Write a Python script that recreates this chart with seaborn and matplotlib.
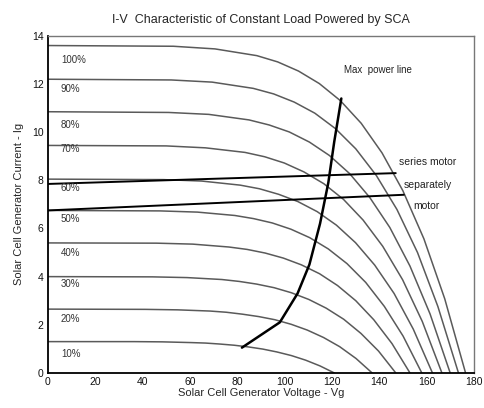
import matplotlib
matplotlib.use('Agg')
import matplotlib.pyplot as plt
import seaborn as sns

# I-V curves of the solar cell array at each insolation level
v_10 = [0, 36.3, 48.4, 60.5, 66.6, 72.6, 78.7, 84.7, 90.8, 96.8, 102.9, 108.9, 115.0, 121]
i_10 = [1.30, 1.30, 1.29, 1.26, 1.24, 1.20, 1.15, 1.08, 0.99, 0.87, 0.72, 0.53, 0.29, 0]
v_20 = [0, 41.1, 54.8, 68.5, 75.4, 82.2, 89.1, 95.9, 102.8, 109.6, 116.5, 123.3, 130.2, 137]
i_20 = [2.65, 2.64, 2.62, 2.57, 2.52, 2.44, 2.34, 2.21, 2.02, 1.78, 1.47, 1.09, 0.60, 0]
v_30 = [0, 44.1, 58.8, 73.5, 80.9, 88.2, 95.6, 102.9, 110.3, 117.6, 125.0, 132.3, 139.7, 147]
i_30 = [4.00, 3.99, 3.96, 3.88, 3.80, 3.69, 3.54, 3.33, 3.05, 2.69, 2.23, 1.64, 0.91, 0]
v_40 = [0, 45.9, 61.2, 76.5, 84.2, 91.8, 99.5, 107.1, 114.8, 122.4, 130.1, 137.7, 145.4, 153]
i_40 = [5.40, 5.39, 5.35, 5.23, 5.13, 4.98, 4.77, 4.49, 4.12, 3.63, 3.00, 2.21, 1.22, 0]
v_50 = [0, 47.4, 63.2, 79.0, 86.9, 94.8, 102.7, 110.6, 118.5, 126.4, 134.3, 142.2, 150.1, 158]
i_50 = [6.75, 6.73, 6.68, 6.54, 6.41, 6.23, 5.97, 5.62, 5.15, 4.54, 3.76, 2.76, 1.53, 0]
v_60 = [0, 48.8, 65.0, 81.3, 89.4, 97.5, 105.6, 113.8, 121.9, 130.0, 138.1, 146.3, 154.4, 162.5]
i_60 = [8.05, 8.03, 7.97, 7.80, 7.65, 7.42, 7.12, 6.70, 6.14, 5.41, 4.48, 3.30, 1.82, 0]
v_70 = [0, 50.0, 66.6, 83.3, 91.6, 99.9, 108.2, 116.6, 124.9, 133.2, 141.5, 149.9, 158.2, 166.5]
i_70 = [9.45, 9.43, 9.35, 9.16, 8.98, 8.72, 8.35, 7.86, 7.21, 6.35, 5.26, 3.87, 2.14, 0]
v_80 = [0, 51.0, 68.0, 85.0, 93.5, 102.0, 110.5, 119.0, 127.5, 136.0, 144.5, 153.0, 161.5, 170]
i_80 = [10.85, 10.82, 10.74, 10.51, 10.30, 10.01, 9.59, 9.03, 8.28, 7.29, 6.04, 4.44, 2.45, 0]
v_90 = [0, 52.1, 69.4, 86.8, 95.4, 104.1, 112.8, 121.5, 130.1, 138.8, 147.5, 156.2, 164.8, 173.5]
i_90 = [12.20, 12.17, 12.08, 11.82, 11.59, 11.25, 10.79, 10.15, 9.31, 8.20, 6.79, 5.00, 2.76, 0]
v_100 = [0, 53.0, 70.6, 88.3, 97.1, 105.9, 114.7, 123.6, 132.4, 141.2, 150.0, 158.9, 167.7, 176.5]
i_100 = [13.60, 13.57, 13.46, 13.18, 12.92, 12.54, 12.02, 11.31, 10.37, 9.14, 7.57, 5.57, 3.08, 0]

levels = ['10%', '20%', '30%', '40%', '50%', '60%', '70%', '80%', '90%', '100%']
label_i = [0.8, 2.25, 3.7, 5.0, 6.4, 7.7, 9.3, 10.3, 11.8, 13.0]

# maximum power locus
mp_v = [82, 98, 105.5, 110.5, 115, 118.5, 121, 124]
mp_i = [1.05, 2.1, 3.3, 4.5, 6.2, 7.9, 9.6, 11.4]

# load lines
series_v = [0, 147]
series_i = [7.85, 8.3]
sep_v = [0, 150.4]
sep_i = [6.75, 7.4]

sns.set_style('white')
plt.rcParams['font.family'] = ['Liberation Sans', 'DejaVu Sans']

fig = plt.figure(figsize=(4.84, 4.08), dpi=100)
ax = fig.add_axes([0.099, 0.086, 0.88, 0.826])

curves = [(v_10, i_10), (v_20, i_20), (v_30, i_30), (v_40, i_40), (v_50, i_50),
          (v_60, i_60), (v_70, i_70), (v_80, i_80), (v_90, i_90), (v_100, i_100)]
for (v, i) in curves:
    sns.lineplot(x=v, y=i, ax=ax, sort=False, estimator=None,
                 color='#5a5a5a', linewidth=1.1)

sns.lineplot(x=mp_v, y=mp_i, ax=ax, sort=False, estimator=None,
             color='black', linewidth=1.8)
sns.lineplot(x=series_v, y=series_i, ax=ax, sort=False, estimator=None,
             color='black', linewidth=1.4)
sns.lineplot(x=sep_v, y=sep_i, ax=ax, sort=False, estimator=None,
             color='black', linewidth=1.4)

for lab, y in zip(levels, label_i):
    ax.text(5.5, y, lab, fontsize=7, color='#333333', va='center', ha='left')

ax.text(125, 12.6, 'Max  power line', fontsize=7, color='#222222', va='center')
ax.text(148.5, 8.75, 'series motor', fontsize=7.5, color='#222222', va='center')
ax.text(150.5, 7.8, 'separately', fontsize=7.5, color='#222222', va='center')
ax.text(160, 6.95, 'motor', fontsize=7.5, color='#222222', va='center', ha='center')

ax.set_xlim(0, 180)
ax.set_ylim(0, 14)
ax.set_xticks(range(0, 181, 20))
ax.set_yticks(range(0, 15, 2))
ax.tick_params(direction='in', length=3, labelsize=7.5, pad=3, colors='#111111')

for side in ['left', 'bottom']:
    ax.spines[side].set_color('black')
    ax.spines[side].set_linewidth(1.3)
for side in ['top', 'right']:
    ax.spines[side].set_color('#777777')
    ax.spines[side].set_linewidth(1.0)

ax.set_title('I-V  Characteristic of Constant Load Powered by SCA', fontsize=9, pad=9)
ax.set_xlabel('Solar Cell Generator Voltage - Vg', fontsize=8, labelpad=1)
ax.set_ylabel('Solar Cell Generator Current - Ig', fontsize=8, labelpad=6)

fig.savefig('out.png', dpi=100)
